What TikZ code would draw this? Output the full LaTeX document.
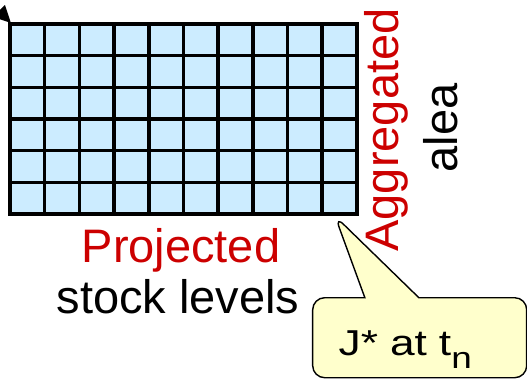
\documentclass[tikz,border=0pt]{standalone}
\usepackage{fontspec}
\setmainfont{Liberation Sans}
\newfontfamily\notefont[FakeStretch=1.23]{Liberation Sans}
\usetikzlibrary{shapes.callouts,arrows.meta}
\definecolor{cellblue}{RGB}{204,236,255}
\definecolor{labelred}{RGB}{204,0,0}
\definecolor{noteyellow}{RGB}{255,255,204}

\begin{document}
\begin{tikzpicture}[x=0.5pt, y=-0.5pt,
    gridline/.style={line width=1.8pt},
    biglabel/.style={font=\fontsize{23.5}{28}\selectfont, inner sep=0pt},
    notebox/.style={rectangle callout, draw, line width=0.7pt, fill=noteyellow,
      rounded corners=6pt, callout pointer width=27pt,
      font=\notefont\fontsize{18}{22}\selectfont, inner xsep=13pt, inner ysep=0pt,
      text width=81pt, align=left, text height=29pt, text depth=11pt}]
	\useasboundingbox (0,0) rectangle (527,382);
	\clip (0,0) rectangle (527,382);
	% grid of stock levels x alea
	\coordinate (corner) at (11,23);
	\coordinate (tip) at (335,216);
	\coordinate (start) at (-25,-13);
	\fill[cellblue] (10,24) rectangle (357,214);
	\foreach \i in {1,...,9}
		\draw[gridline] (10+34.7*\i,24) -- (10+34.7*\i,214);
	\foreach \j in {1,...,5}
		\draw[gridline] (10,24+31.67*\j) -- (357,24+31.67*\j);
	\draw[gridline] (10,24) rectangle (357,214);
	\draw[line width=1.5pt, -{Triangle[length=8.5pt, width=8pt]}] (start) -- (corner);
	% labels
	\node[biglabel, text=labelred, rotate=90, anchor=base] (aggr) at (399,130) {Aggregated};
	\node[biglabel, rotate=90, anchor=base] (alea) at (458,128) {alea};
	\node[biglabel, text=labelred, anchor=base] (proj) at (181,262) {Projected};
	\node[biglabel, anchor=base] (stock) at (178,313) {stock levels};
	% callout
	\node[notebox, callout absolute pointer=(tip), anchor=north west] (jstar) at (312,297)
		{J* at t\raisebox{-6.5pt}{\fontsize{15}{15}\selectfont n}};
\end{tikzpicture}
\end{document}
